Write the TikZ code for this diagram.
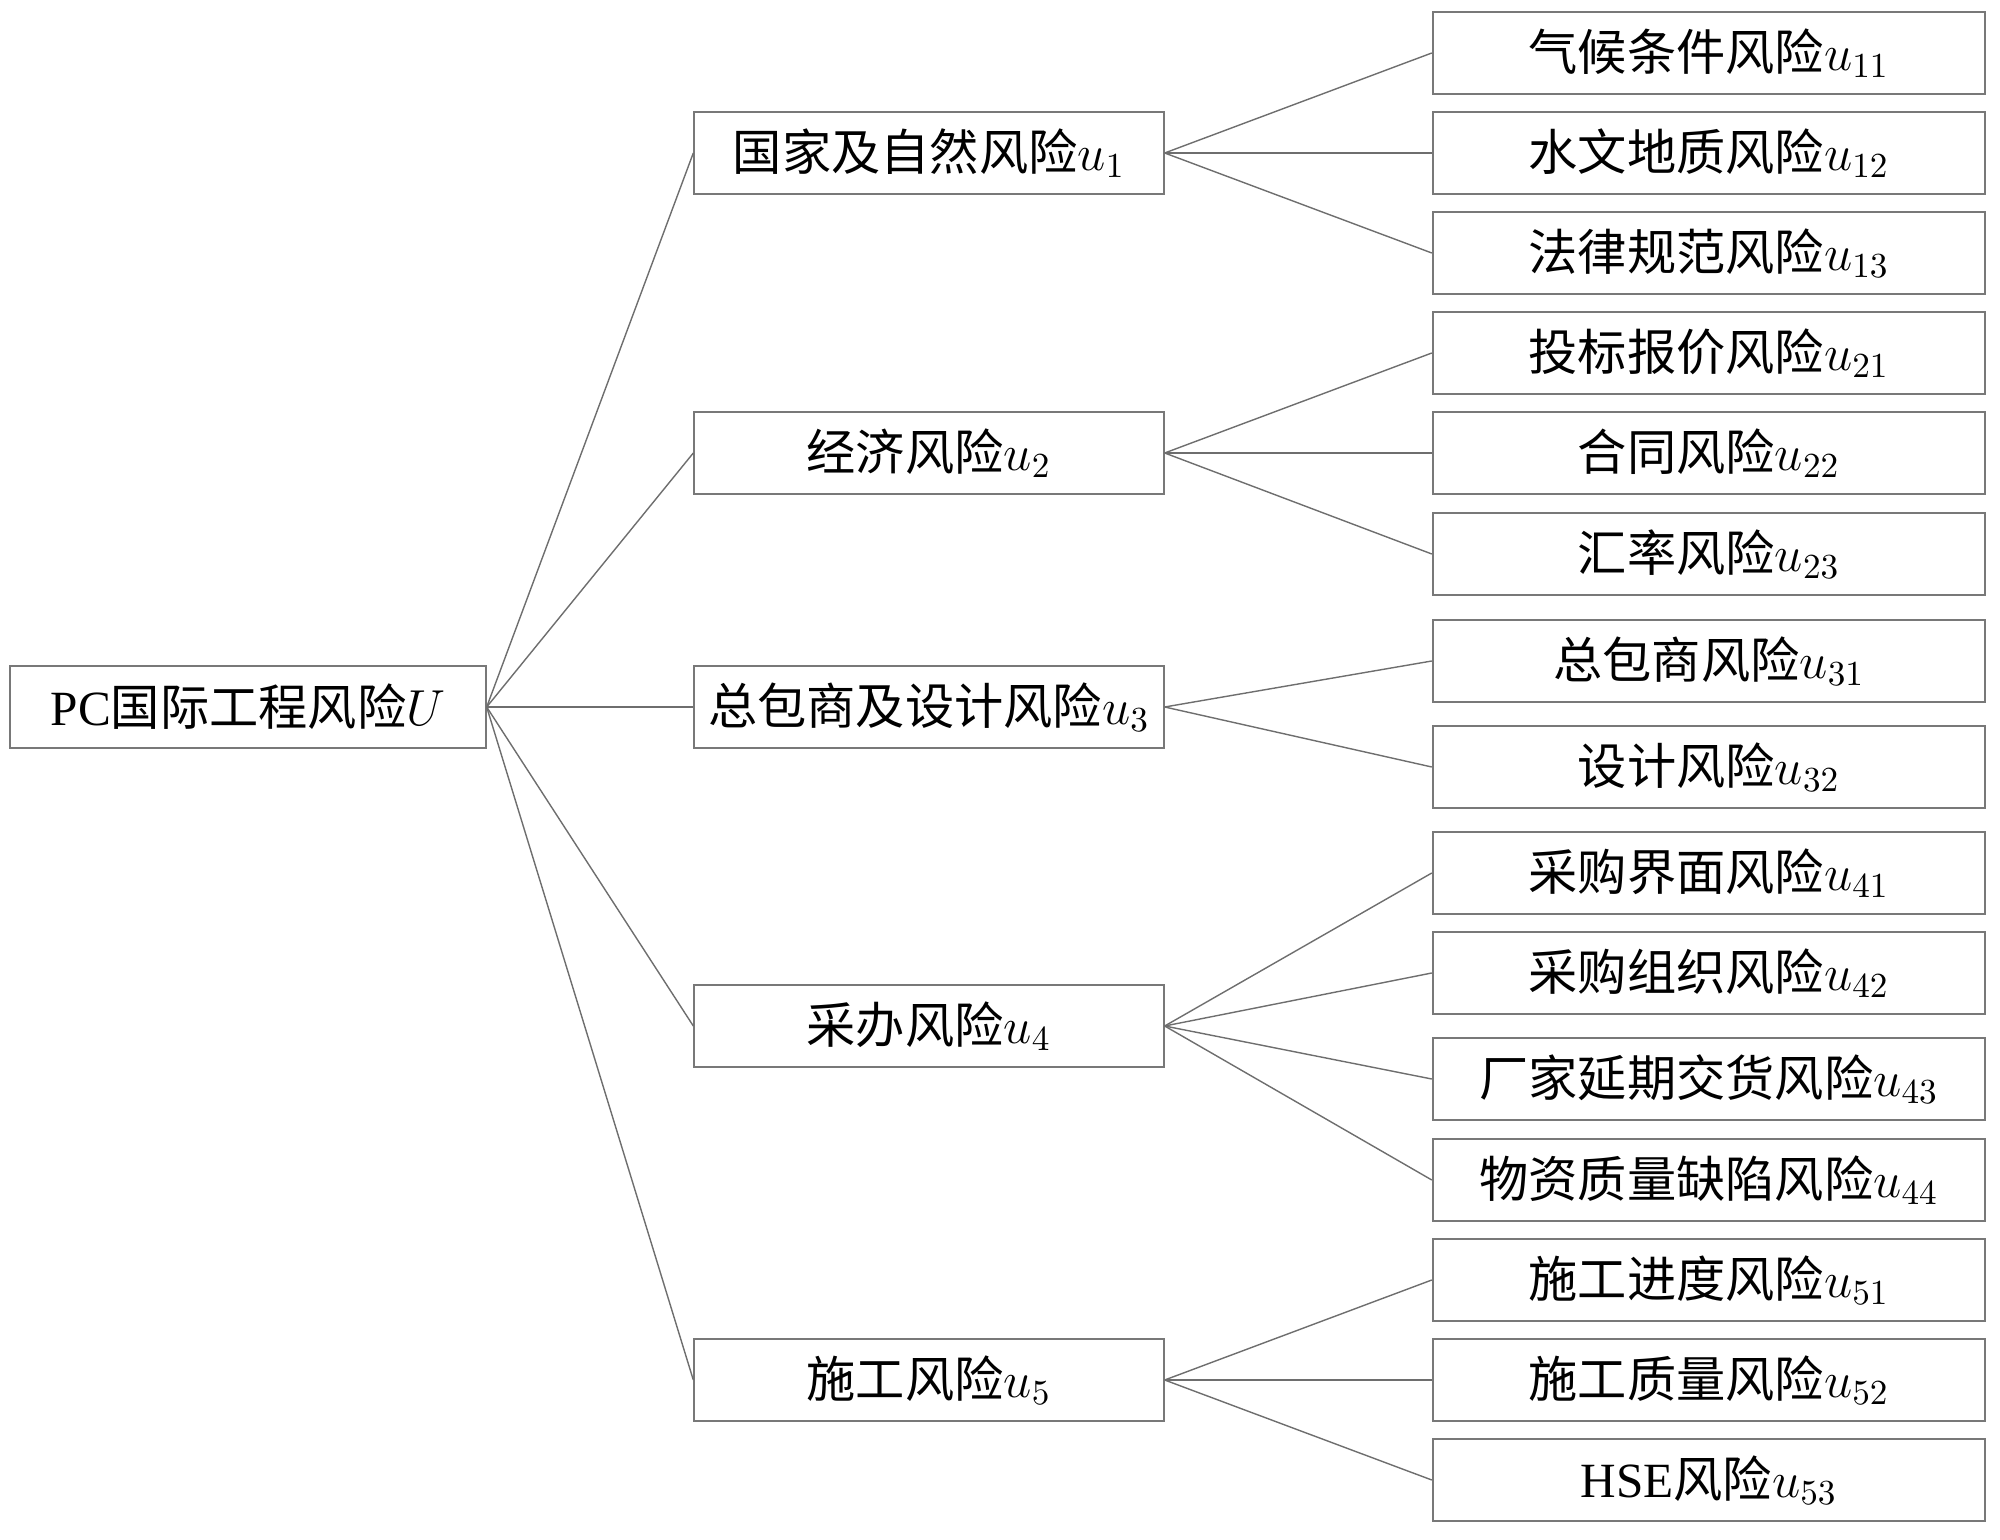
\documentclass[tikz,border=0pt]{standalone}
\usepackage{fontspec}
\setmainfont{Liberation Serif}
\newfontfamily\cjk{Noto Sans CJK SC}
\usepackage{tikz}
\definecolor{boxline}{RGB}{120,120,120}
\definecolor{linkline}{RGB}{110,110,110}

\begin{document}
\begin{tikzpicture}[x=0.01cm, y=-0.01cm,
    box/.style={draw=boxline, line width=0.6pt, minimum height=0.82cm, inner sep=0pt,
      font=\fontsize{14pt}{16pt}\selectfont\cjk},
    rootbox/.style={box, minimum width=4.75cm},
    midbox/.style={box, minimum width=4.69cm},
    leafbox/.style={box, minimum width=5.52cm},
    link/.style={draw=linkline, line width=0.4pt}]
  \useasboundingbox (0,0) rectangle (2000,1540);
  % root
  \node[rootbox] (root) at (248,707) {\textrm{PC}国际工程风险$U$};
  % first level
  \node[midbox] (u1) at (929,153) {国家及自然风险$u_1$};
  \node[midbox] (u2) at (929,453) {经济风险$u_2$};
  \node[midbox] (u3) at (929,707) {总包商及设计风险$u_3$};
  \node[midbox] (u4) at (929,1026) {采办风险$u_4$};
  \node[midbox] (u5) at (929,1380) {施工风险$u_5$};
  % second level
  \foreach \n/\y/\t in {u11/53/气候条件风险$u_{11}$, u12/153/水文地质风险$u_{12}$,
      u13/253/法律规范风险$u_{13}$, u21/353/投标报价风险$u_{21}$,
      u22/453/合同风险$u_{22}$, u23/554/汇率风险$u_{23}$,
      u31/661/总包商风险$u_{31}$, u32/767/设计风险$u_{32}$,
      u41/873/采购界面风险$u_{41}$, u42/973/采购组织风险$u_{42}$,
      u43/1079/厂家延期交货风险$u_{43}$, u44/1180/物资质量缺陷风险$u_{44}$,
      u51/1280/施工进度风险$u_{51}$, u52/1380/施工质量风险$u_{52}$,
      u53/1480/\textrm{HSE}风险$u_{53}$}
    \node[leafbox] (\n) at (1709,\y) {\t};
  % connectors
  \foreach \m in {u1,u2,u3,u4,u5}
    \draw[link] (root.east) -- (\m.west);
  \foreach \m/\c in {u1/u11, u1/u12, u1/u13, u2/u21, u2/u22, u2/u23, u3/u31, u3/u32,
      u4/u41, u4/u42, u4/u43, u4/u44, u5/u51, u5/u52, u5/u53}
    \draw[link] (\m.east) -- (\c.west);
\end{tikzpicture}
\end{document}
